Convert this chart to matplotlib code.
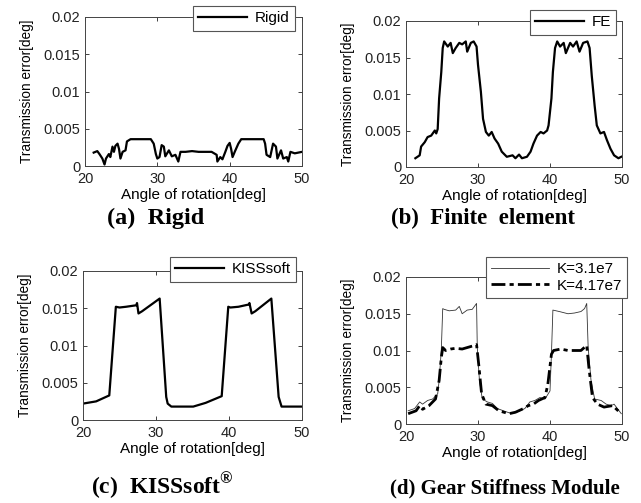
import matplotlib.pyplot as plt

plt.rcParams['font.family'] = ['Liberation Sans', 'DejaVu Sans']
plt.rcParams['mathtext.fontset'] = 'custom'
plt.rcParams['mathtext.rm'] = 'Liberation Serif:bold'
plt.rcParams['mathtext.bf'] = 'Liberation Serif:bold'

# Data
x_ticks = [20, 30, 40, 50]
y_ticks = [0, 0.005, 0.01, 0.015, 0.02]
y_tick_labels = ['0', '0.005', '0.01', '0.015', '0.02']

rigid_x = [21.2, 21.7, 22.0, 22.4, 22.7, 22.9, 23.3, 23.5, 23.8, 24.0, 24.2, 24.5,
           24.7, 24.9, 25.2, 25.6, 25.8, 26.3, 29.1, 29.5, 29.8, 30.0, 30.3, 30.6,
           30.9, 31.1, 31.6, 32.0, 32.5, 32.9, 33.2, 33.9, 34.8, 35.7, 36.6, 37.5,
           38.2, 38.3, 38.7, 39.0, 39.4, 39.7, 40.0, 40.2, 40.4, 40.7, 41.2, 41.6,
           44.7, 44.9, 45.1, 45.6, 46.0, 46.4, 46.6, 47.1, 47.4, 47.9, 48.1, 48.4,
           49.0, 50.0]
rigid_y = [0.0018, 0.0020, 0.0016, 0.0010, 0.0002, 0.0010, 0.0016, 0.0012, 0.0026,
           0.0019, 0.0027, 0.0030, 0.0023, 0.0010, 0.0019, 0.0021, 0.0033, 0.0036,
           0.0036, 0.0030, 0.0016, 0.0010, 0.0012, 0.0028, 0.0026, 0.0013, 0.0021,
           0.0013, 0.0015, 0.0006, 0.0019, 0.0019, 0.0020, 0.0019, 0.0019, 0.0019,
           0.0015, 0.0006, 0.0012, 0.0009, 0.0019, 0.0027, 0.0031, 0.0023, 0.0012,
           0.0019, 0.0030, 0.0036, 0.0036, 0.0030, 0.0015, 0.0012, 0.0030, 0.0026,
           0.0010, 0.0021, 0.0010, 0.0012, 0.0006, 0.0019, 0.0017, 0.0019]

fe_x = [21.3, 21.9, 22.1, 22.6, 23.0, 23.5, 24.0, 24.2, 24.4, 24.6, 24.9, 25.1,
        25.3, 25.8, 26.2, 26.5, 26.9, 27.4, 27.8, 28.3, 28.5, 29.0, 29.4, 29.8,
        30.0, 30.4, 30.7, 31.1, 31.5, 31.9, 32.3, 32.8, 33.3, 34.0, 34.8, 35.2,
        35.7, 36.1, 36.8, 37.3, 37.7, 38.2, 38.7, 39.1, 39.6, 39.8, 40.2, 40.4,
        40.7, 41.0, 41.4, 41.9, 42.2, 42.8, 43.2, 43.7, 44.1, 44.6, 45.2, 45.5,
        45.8, 46.2, 46.5, 47.0, 47.5, 47.9, 48.4, 48.9, 49.5, 49.9]
fe_y = [0.0012, 0.0016, 0.0028, 0.0034, 0.0041, 0.0043, 0.0050, 0.0046, 0.0052,
        0.0094, 0.0130, 0.0163, 0.0172, 0.0165, 0.0170, 0.0156, 0.0163, 0.0170,
        0.0168, 0.0172, 0.0158, 0.0170, 0.0172, 0.0165, 0.0140, 0.0103, 0.0066,
        0.0048, 0.0043, 0.0048, 0.0039, 0.0032, 0.0021, 0.0014, 0.0016, 0.0012,
        0.0017, 0.0012, 0.0014, 0.0021, 0.0032, 0.0043, 0.0048, 0.0046, 0.0050,
        0.0057, 0.0094, 0.0130, 0.0163, 0.0172, 0.0165, 0.0170, 0.0156, 0.0170,
        0.0165, 0.0172, 0.0158, 0.0170, 0.0172, 0.0163, 0.0125, 0.0084, 0.0057,
        0.0046, 0.0048, 0.0037, 0.0025, 0.0016, 0.0012, 0.0014]

kiss_x = [20.0, 21.8, 23.6, 24.5, 25.0, 25.9, 27.3, 27.4, 27.6, 28.1, 30.5, 31.4,
          31.6, 32.1, 35.1, 36.8, 39.0, 39.9, 40.2, 41.3, 42.7, 42.8, 43.1, 43.6,
          45.8, 46.8, 47.2, 50.0]
kiss_y = [0.0022, 0.0025, 0.0033, 0.0152, 0.0151, 0.0152, 0.0154, 0.0157, 0.0143,
          0.0146, 0.0163, 0.0031, 0.0022, 0.0018, 0.0018, 0.0023, 0.0032, 0.0152,
          0.0151, 0.0152, 0.0155, 0.0157, 0.0143, 0.0146, 0.0163, 0.0031, 0.0018,
          0.0018]

k1_x = [20.3, 21.2, 21.9, 22.3, 23.0, 23.7, 24.4, 24.6, 24.9, 25.1, 25.3, 26.0,
        26.9, 27.4, 27.8, 28.5, 29.2, 29.8, 29.9, 30.2, 30.6, 31.3, 32.0, 32.7,
        33.8, 34.7, 35.6, 36.5, 37.2, 37.9, 38.6, 39.3, 40.0, 40.2, 40.4, 41.3,
        42.5, 43.4, 44.3, 44.8, 45.1, 45.3, 45.7, 46.2, 47.1, 47.8, 48.5, 48.9, 49.9]
k1_y = [0.0018, 0.0021, 0.0030, 0.0027, 0.0032, 0.0034, 0.0041, 0.0059, 0.0100,
        0.0157, 0.0156, 0.0154, 0.0155, 0.0160, 0.0150, 0.0155, 0.0156, 0.0164,
        0.0104, 0.0059, 0.0034, 0.0030, 0.0028, 0.0021, 0.0017, 0.0014, 0.0017,
        0.0021, 0.0030, 0.0032, 0.0036, 0.0034, 0.0045, 0.0095, 0.0155, 0.0153,
        0.0150, 0.0151, 0.0153, 0.0157, 0.0164, 0.0104, 0.0059, 0.0034, 0.0032,
        0.0027, 0.0025, 0.0027, 0.0014]

k2_x = [20.3, 21.4, 21.9, 22.3, 23.2, 24.1, 24.6, 24.9, 25.1, 25.5, 26.2, 26.9,
        27.8, 28.5, 29.2, 29.8, 30.1, 30.5, 31.1, 32.0, 32.9, 34.3, 35.2, 36.1,
        37.0, 37.7, 38.4, 39.3, 39.7, 40.2, 40.5, 41.5, 42.5, 43.4, 44.3, 45.1,
        45.4, 45.9, 46.6, 47.5, 48.7, 49.9]
k2_y = [0.0014, 0.0018, 0.0025, 0.0020, 0.0025, 0.0034, 0.0059, 0.0090, 0.0104,
        0.0100, 0.0102, 0.0103, 0.0102, 0.0104, 0.0106, 0.0108, 0.0081, 0.0041,
        0.0027, 0.0025, 0.0018, 0.0014, 0.0016, 0.0020, 0.0025, 0.0027, 0.0032,
        0.0036, 0.0054, 0.0095, 0.0100, 0.0102, 0.0100, 0.0100, 0.0100, 0.0107,
        0.0077, 0.0036, 0.0027, 0.0023, 0.0025, 0.0014]

W, H = 641, 503
fig = plt.figure(figsize=(W / 100, H / 100), dpi=100)


def make_axes(left, right, top, bottom):
    ax = fig.add_axes([left / W, (H - bottom) / H, (right - left) / W, (bottom - top) / H])
    ax.set_xlim(20, 50)
    ax.set_ylim(0, 0.02)
    ax.set_xticks(x_ticks)
    ax.set_yticks(y_ticks)
    ax.set_yticklabels(y_tick_labels)
    ax.tick_params(direction='in', top=True, right=True, length=3, width=0.6,
                   labelsize=10.5, colors='#222222')
    ax.tick_params(axis='x', pad=4.5)
    ax.tick_params(axis='y', pad=3.5)
    for s in ax.spines.values():
        s.set_linewidth(0.7)
        s.set_color('#444444')
    ax.set_xlabel('Angle of rotation[deg]', fontsize=11, labelpad=1)
    ax.set_ylabel('Transmission error[deg]', fontsize=9.8, labelpad=7)
    return ax


def add_legend(ax, anchor, hl=3.2):
    leg = ax.legend(loc='upper right', bbox_to_anchor=anchor, fontsize=11,
                    fancybox=False, framealpha=1, edgecolor='#555555',
                    handlelength=hl, borderpad=0.35, labelspacing=0.15,
                    handletextpad=0.5, borderaxespad=0)
    leg.get_frame().set_linewidth(0.8)
    return leg


ax_a = make_axes(85, 302, 17, 166)
ax_a.plot(rigid_x, rigid_y, color='black', lw=1.6, label='Rigid')
add_legend(ax_a, (0.968, 1.074))

ax_b = make_axes(406, 622, 21, 167)
ax_b.plot(fe_x, fe_y, color='black', lw=1.6, label='FE')
add_legend(ax_b, (0.974, 1.075))

ax_c = make_axes(83, 302, 271, 420)
ax_c.plot(kiss_x, kiss_y, color='black', lw=1.6, label='KISSsoft')
add_legend(ax_c, (0.973, 1.094))

ax_d = make_axes(406, 622, 277, 424)
ax_d.plot(k1_x, k1_y, color='#333333', lw=0.6, label='K=3.1e7')
ax_d.plot(k2_x, k2_y, color='black', lw=2.0, linestyle=(0, (5, 1.5, 1.5, 1.5)),
          label='K=4.17e7')
add_legend(ax_d, (1.025, 1.136), hl=3.8)

cap = dict(fontweight='bold', family='Liberation Serif', ha='center', va='center')
fig.text(156 / W, 1 - 218 / H, '(a)  Rigid', fontsize=17.5, **cap)
fig.text(483 / W, 1 - 218 / H, '(b)  Finite  element', fontsize=16.5, **cap)
fig.text(162 / W, 1 - 486 / H, r'(c)  KISSsoft$^{®}$', fontsize=17, **cap)
fig.text(505 / W, 1 - 488 / H, '(d) Gear Stiffness Module', fontsize=15, **cap)

fig.savefig('out.png', dpi=100)
